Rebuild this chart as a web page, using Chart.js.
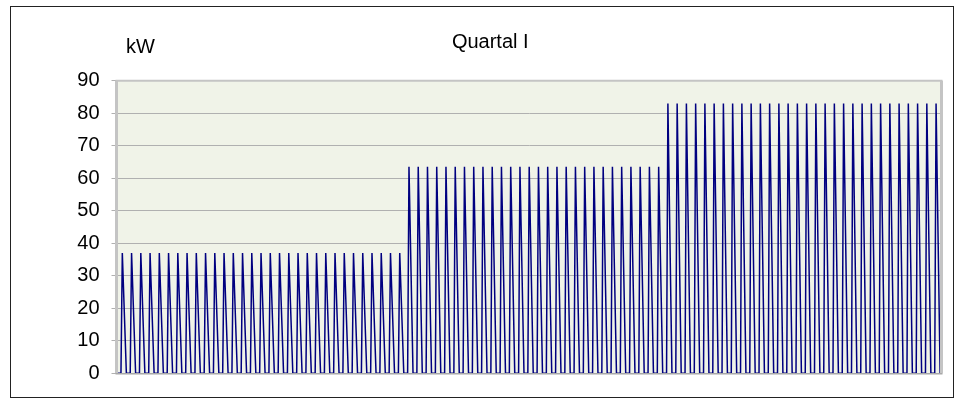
<!DOCTYPE html>
<html>
<head>
<meta charset="utf-8">
<script src="https://cdn.jsdelivr.net/npm/chart.js@4.4.0/dist/chart.umd.min.js"></script>
<style>
  html, body { margin: 0; padding: 0; background: #fff; }
</style>
</head>
<body>
<canvas id="myChart" width="955" height="400"></canvas>
<script>
// Tagesspitzen in kW (ein Wert pro Tag)
const janPeaks = [37, 37, 37, 37, 37, 37, 37, 37, 37, 37, 37, 37, 37, 37, 37, 37,
                  37, 37, 37, 37, 37, 37, 37, 37, 37, 37, 37, 37, 37, 37, 37];
const febPeaks = [63.5, 63.5, 63.5, 63.5, 63.5, 63.5, 63.5, 63.5, 63.5, 63.5, 63.5, 63.5, 63.5, 63.5,
                  63.5, 63.5, 63.5, 63.5, 63.5, 63.5, 63.5, 63.5, 63.5, 63.5, 63.5, 63.5, 63.5, 63.5];
const marPeaks = [83, 83, 83, 83, 83, 83, 83, 83, 83, 83, 83, 83, 83, 83, 83, 83,
                  83, 83, 83, 83, 83, 83, 83, 83, 83, 83, 83, 83, 83, 83, 83];

// Tagesverlauf: Stunden ohne Last und Stunde der Spitze
const offHours = [0, 9, 23];
const peakHour = 12.5;

const yTicks = [0, 10, 20, 30, 40, 50, 60, 70, 80, 90];
const titleText = 'Quartal I';
const unitText = 'kW';

// Punkte fuer die Linie aufbauen
const dayPeaks = janPeaks.concat(febPeaks, marPeaks);
const points = [];
dayPeaks.forEach((peak, d) => {
    points.push({ x: d * 24 + offHours[0], y: 0 });
    points.push({ x: d * 24 + offHours[1], y: 0 });
    points.push({ x: d * 24 + peakHour, y: peak });
    points.push({ x: d * 24 + offHours[2], y: 0 });
});

// Hintergrund, Rahmen und "kW"
const plotDeco = {
    id: 'plotDeco',
    beforeDraw(chart) {
        const ctx = chart.ctx;
        const a = chart.chartArea;
        ctx.save();
        ctx.fillStyle = '#fff';
        ctx.fillRect(0, 0, chart.width, chart.height);
        ctx.fillStyle = '#f0f3e8';
        ctx.fillRect(a.left, a.top, a.right - a.left, a.bottom - a.top);
        ctx.restore();
    },
    afterDraw(chart) {
        const ctx = chart.ctx;
        const a = chart.chartArea;
        ctx.save();
        // Plotrahmen
        ctx.strokeStyle = '#c4c4c4';
        ctx.lineWidth = 3;
        ctx.beginPath();
        ctx.moveTo(a.left - 1, a.bottom);
        ctx.lineTo(a.left - 1, a.top);
        ctx.stroke();
        ctx.beginPath();
        ctx.moveTo(a.right + 1, a.top);
        ctx.lineTo(a.right + 1, a.bottom);
        ctx.stroke();
        ctx.lineWidth = 2;
        ctx.beginPath();
        ctx.moveTo(a.left - 2, a.top);
        ctx.lineTo(a.right + 2, a.top);
        ctx.stroke();
        ctx.strokeStyle = '#a8a8a8';
        ctx.lineWidth = 1.5;
        ctx.beginPath();
        ctx.moveTo(a.left - 2, a.bottom + 0.5);
        ctx.lineTo(a.right + 2, a.bottom + 0.5);
        ctx.stroke();
        // aeusserer Rahmen
        ctx.strokeStyle = '#222';
        ctx.lineWidth = 1;
        ctx.strokeRect(10.5, 6.5, 943, 391);
        // Einheit
        ctx.fillStyle = '#000';
        ctx.font = '20px "Liberation Sans", Arial, sans-serif';
        ctx.textAlign = 'center';
        ctx.textBaseline = 'middle';
        ctx.fillText(unitText, 140.5, 47);
        ctx.restore();
    }
};

new Chart(document.getElementById('myChart'), {
    type: 'line',
    data: {
        datasets: [{
            label: 'Leistung',
            data: points,
            borderColor: '#000080',
            borderWidth: 1.5,
            pointRadius: 0,
            tension: 0,
            fill: false
        }]
    },
    options: {
        responsive: false,
        animation: false,
        devicePixelRatio: 1,
        layout: {
            padding: { left: 40, top: 30, right: 14.5, bottom: 26.7 }
        },
        plugins: {
            legend: { display: false },
            tooltip: { enabled: false },
            title: {
                display: true,
                text: titleText,
                color: '#000',
                font: { family: '"Liberation Sans", Arial, sans-serif', size: 20, weight: 'normal', lineHeight: 1.2 },
                padding: { top: 0, bottom: 26.7 }
            }
        },
        scales: {
            x: {
                type: 'linear',
                display: false,
                min: 0,
                max: 89 * 24
            },
            y: {
                min: 0,
                max: 90,
                afterFit(scale) { scale.width = 77.5; },
                afterBuildTicks(scale) { scale.ticks = yTicks.map(v => ({ value: v })); },
                border: { display: false },
                grid: {
                    color: '#b0b0b0',
                    tickColor: '#b0b0b0',
                    tickLength: 6,
                    lineWidth: 1
                },
                ticks: {
                    color: '#000',
                    padding: 12,
                    font: { family: '"Liberation Sans", Arial, sans-serif', size: 20 }
                }
            }
        }
    },
    plugins: [plotDeco]
});
</script>
</body>
</html>
